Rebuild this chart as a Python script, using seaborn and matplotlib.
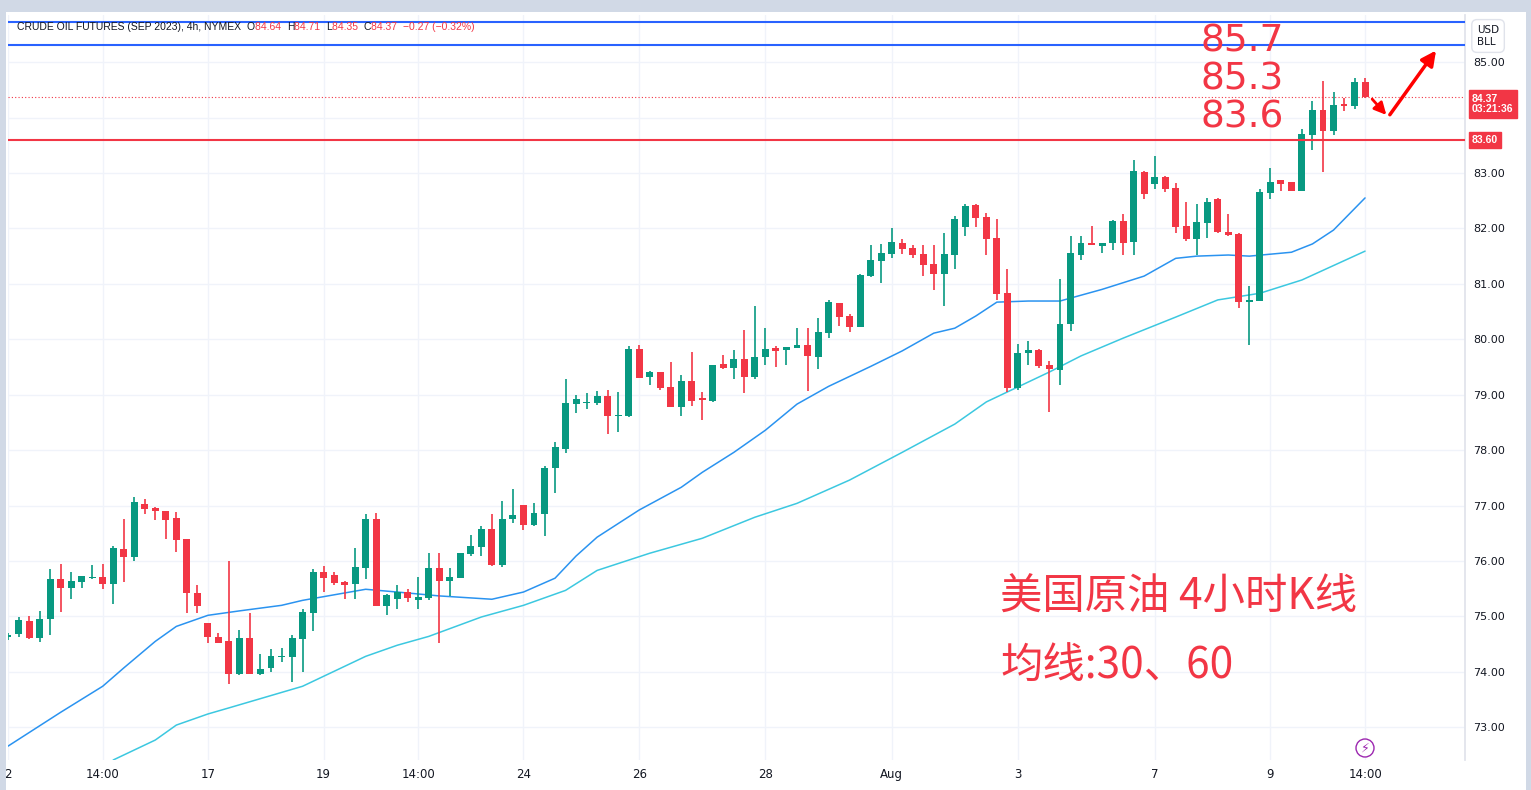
import numpy as np
import matplotlib.pyplot as plt
import seaborn as sns
import pandas as pd

sns.set_theme(style="white")
plt.rcParams['font.family'] = ['DejaVu Sans', 'Noto Sans CJK SC']

# 4h candles
opens = [74.62, 74.68, 74.91, 74.61, 74.95, 75.67, 75.51, 75.62, 75.69, 75.71,
         75.58, 76.21, 76.07, 77.03, 76.95, 76.90, 76.77, 76.39, 75.42, 74.88,
         74.62, 74.55, 73.96, 74.61, 73.96, 74.07, 74.26, 74.26, 74.59, 75.06,
         75.80, 75.74, 75.62, 75.58, 75.87, 76.76, 75.19, 75.31, 75.44, 75.29,
         75.33, 75.87, 75.64, 75.69, 76.12, 76.25, 76.58, 75.93, 76.76, 77.01,
         76.65, 76.85, 77.68, 78.02, 78.83, 78.85, 78.85, 78.97, 78.61, 78.61,
         79.82, 79.32, 79.41, 79.14, 78.78, 79.24, 78.94, 78.88, 79.55, 79.48,
         79.64, 79.32, 79.68, 79.84, 79.80, 79.84, 79.89, 79.68, 80.11, 80.65,
         80.42, 80.22, 81.14, 81.41, 81.54, 81.73, 81.64, 81.54, 81.36, 81.18,
         81.52, 82.02, 82.42, 82.20, 81.82, 80.83, 79.12, 79.75, 79.80, 79.53,
         79.44, 80.27, 81.52, 81.73, 81.68, 81.73, 82.13, 81.75, 83.02, 82.80,
         82.93, 82.73, 82.04, 81.81, 82.09, 82.53, 81.93, 81.90, 80.67, 80.69,
         82.64, 82.87, 82.83, 82.67, 83.68, 84.13, 83.76, 84.24, 84.21, 84.64]
closes = [74.66, 74.93, 74.61, 74.95, 75.67, 75.51, 75.64, 75.73, 75.71, 75.58,
          76.23, 76.07, 77.06, 76.94, 76.90, 76.74, 76.38, 75.42, 75.19, 74.62,
          74.52, 73.96, 74.61, 73.96, 74.05, 74.28, 74.28, 74.61, 75.08, 75.80,
          75.69, 75.60, 75.56, 75.89, 76.76, 75.19, 75.38, 75.44, 75.33, 75.35,
          75.87, 75.64, 75.71, 76.14, 76.27, 76.58, 75.93, 76.76, 76.83, 76.65,
          76.86, 77.68, 78.05, 78.85, 78.92, 78.87, 78.97, 78.61, 78.63, 79.82,
          79.30, 79.41, 79.12, 78.78, 79.24, 78.88, 78.90, 79.53, 79.48, 79.64,
          79.32, 79.68, 79.82, 79.79, 79.86, 79.89, 79.70, 80.13, 80.67, 80.40,
          80.22, 81.16, 81.43, 81.55, 81.75, 81.63, 81.52, 81.34, 81.18, 81.54,
          82.17, 82.40, 82.19, 81.81, 80.81, 79.12, 79.75, 79.80, 79.51, 79.46,
          80.27, 81.55, 81.73, 81.70, 81.73, 82.13, 81.73, 83.03, 82.62, 82.93,
          82.71, 82.02, 81.81, 82.11, 82.47, 81.93, 81.88, 80.67, 80.71, 82.65,
          82.83, 82.80, 82.67, 83.70, 84.13, 83.76, 84.22, 84.21, 84.64, 84.37]
highs = [74.70, 74.99, 75.00, 75.10, 75.85, 75.94, 75.80, 75.73, 75.93, 75.94,
         76.27, 76.76, 77.15, 77.12, 76.97, 76.90, 76.88, 76.39, 75.56, 74.88,
         74.71, 76.00, 74.75, 75.06, 74.32, 74.41, 74.43, 74.66, 75.13, 75.85,
         75.91, 75.80, 75.64, 76.23, 76.85, 76.86, 75.40, 75.56, 75.49, 75.71,
         76.14, 76.14, 75.87, 76.14, 76.47, 76.63, 76.85, 77.08, 77.30, 77.01,
         77.04, 77.71, 78.14, 79.28, 78.99, 79.03, 79.06, 79.08, 79.05, 79.88,
         79.89, 79.43, 79.41, 79.59, 79.35, 79.77, 79.05, 79.53, 79.71, 79.80,
         80.16, 80.60, 80.20, 79.88, 79.86, 80.20, 80.20, 80.38, 80.71, 80.65,
         80.45, 81.18, 81.70, 81.72, 82.01, 81.81, 81.70, 81.70, 81.70, 81.91,
         82.22, 82.44, 82.44, 82.28, 82.17, 81.27, 79.91, 79.97, 79.82, 79.61,
         81.08, 81.86, 81.86, 82.04, 81.73, 82.15, 82.26, 83.23, 83.03, 83.30,
         82.94, 82.82, 82.47, 82.44, 82.55, 82.55, 82.26, 81.91, 80.96, 82.71,
         83.09, 82.87, 82.83, 83.79, 84.30, 84.66, 84.46, 84.35, 84.71, 84.71]
lows = [74.58, 74.62, 74.59, 74.54, 74.66, 75.08, 75.31, 75.51, 75.67, 75.49,
        75.22, 75.62, 76.00, 76.85, 76.74, 76.39, 76.16, 75.06, 75.06, 74.52,
        74.52, 73.78, 73.94, 73.96, 73.94, 74.00, 74.18, 73.81, 74.00, 74.73,
        75.44, 75.56, 75.31, 75.31, 75.67, 75.19, 75.02, 75.13, 75.26, 75.13,
        75.29, 74.52, 75.37, 75.69, 76.09, 76.09, 75.91, 75.89, 76.68, 76.56,
        76.63, 76.45, 77.22, 77.95, 78.67, 78.74, 78.81, 78.29, 78.33, 78.59,
        79.30, 79.17, 79.08, 78.78, 78.61, 78.79, 78.54, 78.87, 79.46, 79.28,
        79.03, 79.28, 79.53, 79.50, 79.53, 79.84, 79.06, 79.46, 80.02, 80.24,
        80.13, 80.22, 81.12, 81.01, 81.46, 81.54, 81.46, 81.14, 80.89, 80.60,
        81.27, 81.86, 82.02, 81.52, 80.71, 79.05, 79.08, 79.53, 79.48, 78.68,
        79.17, 80.15, 81.43, 81.70, 81.55, 81.61, 81.52, 81.52, 82.53, 82.71,
        82.65, 81.91, 81.77, 81.52, 81.82, 81.91, 81.86, 80.56, 79.89, 80.69,
        82.53, 82.67, 82.67, 82.67, 83.41, 83.02, 83.68, 84.12, 84.15, 84.35]

# moving averages (bar index, price)
ma30_idx = [0, 5, 9, 11, 14, 16, 19, 22, 26, 28, 34, 37, 41, 46, 49, 52, 54, 56, 60, 64, 66,
            69, 72, 75, 78, 82, 85, 88, 90, 92, 94, 97, 100, 104, 108, 111, 113, 116, 118,
            122, 124, 126, 129]
ma30_val = [72.66, 73.27, 73.74, 74.07, 74.55, 74.82, 75.02, 75.10, 75.20, 75.29, 75.49,
            75.44, 75.37, 75.31, 75.44, 75.69, 76.09, 76.43, 76.92, 77.33, 77.60, 77.96,
            78.36, 78.83, 79.15, 79.51, 79.79, 80.11, 80.20, 80.42, 80.67, 80.69, 80.69,
            80.90, 81.14, 81.46, 81.50, 81.52, 81.50, 81.57, 81.72, 81.97, 82.55]
ma60_idx = [10, 14, 16, 19, 21, 28, 34, 37, 40, 45, 49, 53, 56, 61, 66, 71, 75, 80, 85, 90,
            93, 95, 99, 102, 106, 111, 115, 119, 123, 129]
ma60_val = [72.41, 72.77, 73.04, 73.24, 73.35, 73.74, 74.28, 74.48, 74.64, 74.99, 75.20,
            75.47, 75.83, 76.14, 76.41, 76.79, 77.04, 77.46, 77.96, 78.47, 78.87, 79.05,
            79.41, 79.70, 80.02, 80.40, 80.71, 80.83, 81.07, 81.59]

tick_idx = [0, 9, 19, 30, 39, 49, 60, 72, 84, 96, 109, 120, 129]
tick_labels = ["2", "14:00", "17", "19", "14:00", "24", "26", "28", "Aug", "3", "7", "9", "14:00"]
price_ticks = [73, 74, 75, 76, 77, 78, 79, 80, 81, 82, 83, 85]

level_blue = [85.72, 85.31]
level_red = 83.60
last_price = 84.37

GREEN = "#089981"
RED = "#f23645"
DARK = "#131722"

df = pd.DataFrame({"o": opens, "h": highs, "l": lows, "c": closes})
df["i"] = np.arange(len(df))
df["col"] = np.where(df.c >= df.o, GREEN, RED)

fig = plt.figure(figsize=(15.31, 7.90), dpi=100)
fig.patch.set_facecolor("white")
ax = fig.add_axes([8 / 1531, 30 / 790, 1457 / 1531, 745 / 790])
ax.set_facecolor("white")

# grid
for t in tick_idx:
    ax.axvline(t, color="#f0f3fa", lw=1, zorder=0)
for p in range(73, 86):
    ax.axhline(p, color="#f0f3fa", lw=1, zorder=0)

# candles
ax.vlines(df.i, df.l, df.h, colors=df.col, lw=1.2, zorder=3)
body_h = np.maximum((df.c - df.o).abs(), 0.025)
ax.bar(df.i, body_h, bottom=np.minimum(df.o, df.c), width=0.66, color=df.col, zorder=4, linewidth=0)

sns.lineplot(x=ma30_idx, y=ma30_val, ax=ax, color="#2a93f0", lw=1.1, zorder=2)
sns.lineplot(x=ma60_idx, y=ma60_val, ax=ax, color="#3cc8e0", lw=1.1, zorder=2)

for lv in level_blue:
    ax.axhline(lv, color="#2962ff", lw=1.5, zorder=5)
ax.axhline(level_red, color=RED, lw=1.5, zorder=5)
ax.axhline(last_price, color=RED, lw=0.8, ls=(0, (1, 2)), zorder=1)

ax.set_xlim(0.05, 138.5)
ax.set_ylim(72.41, 85.85)
ax.set_xticks(tick_idx)
ax.set_xticklabels(tick_labels, fontsize=8.5, color=DARK)
ax.yaxis.tick_right()
ax.set_yticks(price_ticks)
ax.set_yticklabels([f"{p:.2f}" for p in price_ticks], fontsize=8, color=DARK)
ax.tick_params(axis="both", length=0, pad=6)
for s in ["top", "left", "bottom"]:
    ax.spines[s].set_visible(False)
ax.spines["right"].set_color("#e0e3eb")

# annotations
for txt, yv in [("85.7", 42), ("85.3", 80), ("83.6", 118)]:
    fig.text(1242 / 1531, 1 - yv / 790, txt, color=RED, fontsize=27, ha="center", va="center")
fig.text(1000 / 1531, 1 - 598 / 790, "美国原油 4小时K线", color=RED, fontsize=30.5, va="center",
         family=["Noto Sans CJK SC", "DejaVu Sans"])
fig.text(1000 / 1531, 1 - 667 / 790, "均线:30、60", color=RED, fontsize=30.5, va="center",
         family=["Noto Sans CJK SC", "DejaVu Sans"])

ax.annotate("", xy=(131.2, 84.01), xytext=(129.5, 84.37),
            arrowprops=dict(arrowstyle="-|>", color="red", lw=2, mutation_scale=18))
ax.annotate("", xy=(135.9, 85.25), xytext=(131.2, 84.01),
            arrowprops=dict(arrowstyle="-|>", color="red", lw=2.5, mutation_scale=22))

# header, laid out piece by piece
fig.canvas.draw()
renderer = fig.canvas.get_renderer()
hx = 17
hy = 1 - 27 / 790
pieces = [("CRUDE OIL FUTURES (SEP 2023), 4h, NYMEX  ", DARK), ("O", DARK), ("84.64  ", RED),
          ("H", DARK), ("84.71  ", RED), ("L", DARK), ("84.35  ", RED), ("C", DARK),
          ("84.37  ", RED), ("\u22120.27 (\u22120.32%)", RED)]
for s, c in pieces:
    t = fig.text(hx / 1531, hy, s, fontsize=7.5, color=c, va="center", family="Liberation Sans")
    hx += t.get_window_extent(renderer).width

# price tags
fig.text(1472 / 1531, 1 - 104 / 790, "84.37\n03:21:36", fontsize=7.5, color="white", va="center",
         fontweight="bold", linespacing=1.1, family="Liberation Sans",
         bbox=dict(boxstyle="square,pad=0.3", fc=RED, ec=RED))
fig.text(1472 / 1531, 1 - 140 / 790, "83.60", fontsize=7.5, color="white", va="center", fontweight="bold",
         family="Liberation Sans", bbox=dict(boxstyle="square,pad=0.3", fc=RED, ec=RED))
fig.text(1477 / 1531, 1 - 36 / 790, "USD\nBLL", fontsize=7.5, color=DARK, va="center", linespacing=1.3,
         bbox=dict(boxstyle="round,pad=0.5", fc="white", ec="#e0e3eb"))

# lightning badge
fig.text(1365 / 1531, 1 - 748 / 790, "\u26a1", fontsize=9, color="#9c27b0", ha="center", va="center",
         bbox=dict(boxstyle="circle,pad=0.2", fc="white", ec="#9c27b0"))

# frame strips
fig.patches.append(plt.Rectangle((0, 1 - 12 / 790), 1, 12 / 790, transform=fig.transFigure,
                                 fc="#d1d9e6", ec="none", zorder=10))
fig.patches.append(plt.Rectangle((0, 0), 6 / 1531, 1, transform=fig.transFigure,
                                 fc="#d1d9e6", ec="none", zorder=10))
fig.patches.append(plt.Rectangle((1 - 5 / 1531, 0), 5 / 1531, 1, transform=fig.transFigure,
                                 fc="#d1d9e6", ec="none", zorder=10))

fig.savefig("out.png", dpi=100)
